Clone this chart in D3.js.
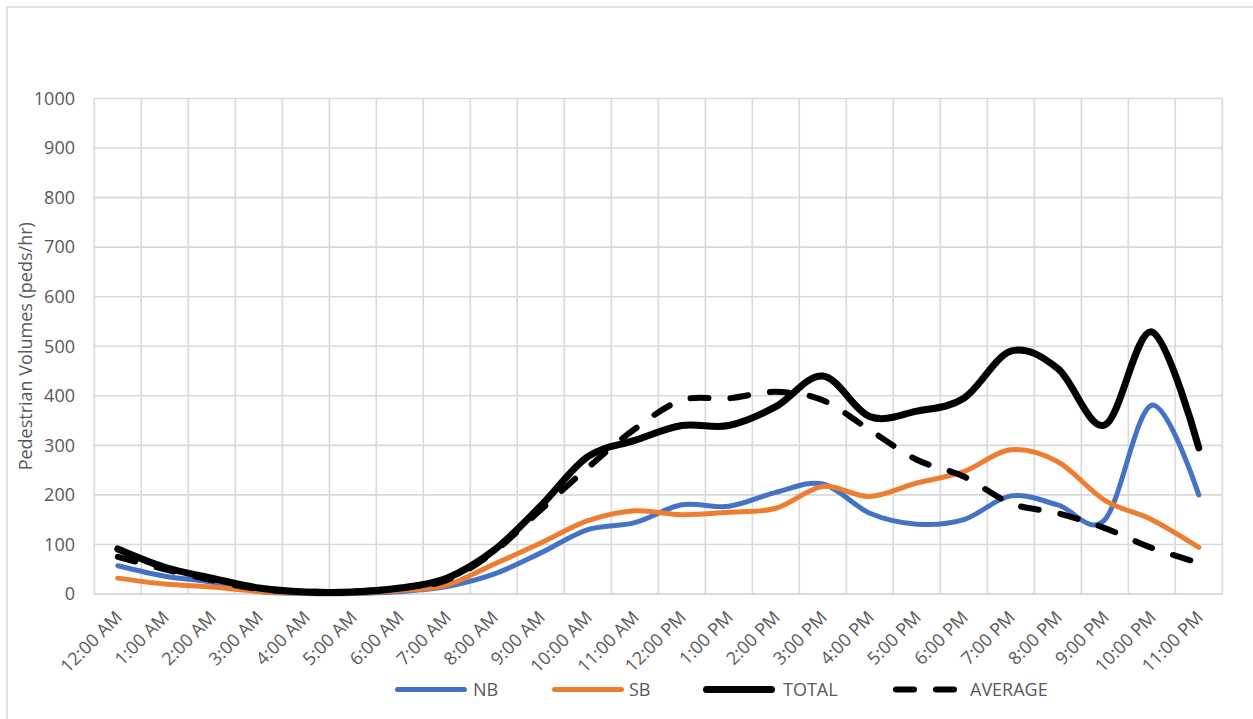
<!DOCTYPE html>
<html>
<head>
<meta charset="utf-8">
<script src="https://cdn.jsdelivr.net/npm/d3@7"></script>
<style>
  html, body { margin: 0; padding: 0; background: #fff; }
  text { font-family: "Open Sans", sans-serif; fill: #595959; }
</style>
</head>
<body>
<svg id="chart" width="1253" height="719"></svg>
<script>
const categories = ["12:00 AM","1:00 AM","2:00 AM","3:00 AM","4:00 AM","5:00 AM","6:00 AM","7:00 AM","8:00 AM","9:00 AM","10:00 AM","11:00 AM","12:00 PM","1:00 PM","2:00 PM","3:00 PM","4:00 PM","5:00 PM","6:00 PM","7:00 PM","8:00 PM","9:00 PM","10:00 PM","11:00 PM"];
const nb      = [57, 36, 24, 5, 1, 1, 5, 15, 40, 83, 130, 144, 180, 177, 205, 222, 163, 141, 150, 198, 180, 150, 381, 200];
const sb      = [32, 20, 14, 5, 2, 2, 7, 18, 60, 103, 148, 168, 160, 165, 173, 217, 197, 224, 247, 291, 267, 189, 150, 94];
const total   = [91, 54, 32, 12, 4, 4, 12, 32, 88, 178, 277, 310, 340, 340, 378, 440, 358, 369, 395, 490, 455, 341, 529, 295];
const average = [75, 50, 28, 10, 5, 5, 12, 28, 85, 170, 255, 333, 391, 395, 408, 391, 331, 271, 237, 183, 163, 133, 93, 63];
const yTicks  = [0, 100, 200, 300, 400, 500, 600, 700, 800, 900, 1000];
const seriesNames = ["NB", "SB", "TOTAL", "AVERAGE"];

const svg = d3.select("#chart");
const plot = { left: 94.3, right: 1222.3, top: 98.5, bottom: 594 };

// outer chart border
svg.append("rect").attr("x", 7).attr("y", 7).attr("width", 1300).attr("height", 800)
  .attr("fill", "none").attr("stroke", "#d9d9d9").attr("stroke-width", 1.5);

const x = d3.scaleBand().domain(categories).range([plot.left, plot.right]).paddingInner(0).paddingOuter(0);
const y = d3.scaleLinear().domain([0, 1000]).range([plot.bottom, plot.top]);
const cx = d => x(d) + x.bandwidth() / 2;

// horizontal gridlines
svg.append("g").selectAll("line").data(yTicks).join("line")
  .attr("x1", plot.left).attr("x2", plot.right)
  .attr("y1", d => y(d)).attr("y2", d => y(d))
  .attr("stroke", "#d9d9d9").attr("stroke-width", 1.6);

// vertical gridlines at band edges
const edges = categories.map(c => x(c)).concat([plot.right]);
svg.append("g").selectAll("line").data(edges).join("line")
  .attr("x1", d => d).attr("x2", d => d)
  .attr("y1", plot.top).attr("y2", plot.bottom)
  .attr("stroke", "#d9d9d9").attr("stroke-width", 1.6);

// bottom axis line
svg.append("line").attr("x1", plot.left).attr("x2", plot.right)
  .attr("y1", plot.bottom).attr("y2", plot.bottom)
  .attr("stroke", "#d9d9d9").attr("stroke-width", 2);

// y tick labels
svg.append("g").selectAll("text").data(yTicks).join("text")
  .attr("x", 75).attr("y", d => y(d)).attr("dy", "0.35em")
  .attr("text-anchor", "end").attr("font-size", 18)
  .text(d => d);

// x tick labels
svg.append("g").selectAll("text").data(categories).join("text")
  .attr("transform", d => `translate(${cx(d) + 1},${614}) rotate(-45)`)
  .attr("dy", "0.35em").attr("text-anchor", "end").attr("font-size", 18)
  .text(d => d);

// y axis title
svg.append("text")
  .attr("transform", `translate(26,${(plot.top + plot.bottom) / 2}) rotate(-90)`)
  .attr("text-anchor", "middle").attr("dy", "0.35em").attr("font-size", 18)
  .text("Pedestrian Volumes (peds/hr)");

const line = d3.line().x((d, i) => cx(categories[i])).y(d => y(d)).curve(d3.curveCatmullRom.alpha(0));

const styles = [
  { name: "NB", data: nb, color: "#4472C4", width: 5, dash: null },
  { name: "SB", data: sb, color: "#ED7D31", width: 5, dash: null },
  { name: "TOTAL", data: total, color: "#000000", width: 7, dash: null },
  { name: "AVERAGE", data: average, color: "#000000", width: 6, dash: "18,22" }
];

styles.forEach(s => {
  svg.append("path").datum(s.data).attr("d", line)
    .attr("fill", "none").attr("stroke", s.color).attr("stroke-width", s.width)
    .attr("stroke-linecap", "round").attr("stroke-linejoin", "round")
    .attr("stroke-dasharray", s.dash);
});

// legend
const legendPos = [
  { x1: 395, x2: 467, tx: 473 },
  { x1: 552, x2: 624, tx: 629 },
  { x1: 703, x2: 775, tx: 783 },
  { x1: 893, x2: 962, tx: 970 }
];
const ly = 689.5;
styles.forEach((s, i) => {
  const p = legendPos[i];
  svg.append("line").attr("x1", p.x1 + s.width / 2).attr("x2", p.x2 - s.width / 2)
    .attr("y1", ly).attr("y2", ly)
    .attr("stroke", s.color).attr("stroke-width", s.width)
    .attr("stroke-linecap", "round")
    .attr("stroke-dasharray", s.dash);
  svg.append("text").attr("x", p.tx).attr("y", ly).attr("dy", "0.35em")
    .attr("font-size", 18).text(seriesNames[i]);
});
</script>
</body>
</html>
